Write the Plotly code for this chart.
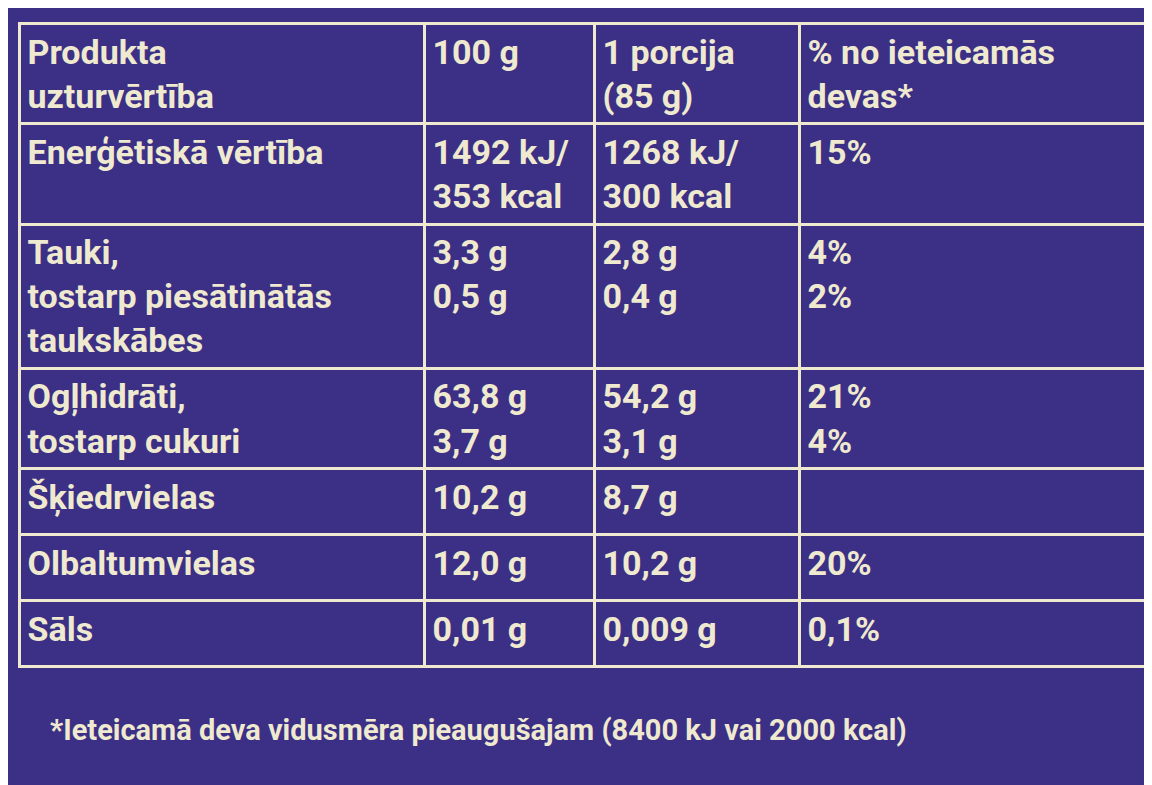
import plotly.graph_objects as go

header = ["<b>Produkta<br>uzturvērtība</b>", "<b>100 g</b>", "<b>1 porcija<br>(85 g)</b>", "<b>% no ieteicamās<br>devas*</b>"]
nutrients = [
    "Enerģētiskā vērtība",
    "Tauki,<br>tostarp piesātinātās<br>taukskābes",
    "Ogļhidrāti,<br>tostarp cukuri",
    "Šķiedrvielas",
    "Olbaltumvielas",
    "Sāls",
]
per_100g = ["1492 kJ/<br>353 kcal", "3,3 g<br>0,5 g", "63,8 g<br>3,7 g", "10,2 g", "12,0 g", "0,01 g"]
per_portion = ["1268 kJ/<br>300 kcal", "2,8 g<br>0,4 g", "54,2 g<br>3,1 g", "8,7 g", "10,2 g", "0,009 g"]
pct_ri = ["15%", "4%<br>2%", "21%<br>4%", "", "20%", "0,1%"]
footnote = "<b>*Ieteicamā deva vidusmēra pieaugušajam (8400 kJ vai 2000 kcal)</b>"

bg = "#3b2f86"
ink = "#efe9cf"
fnt = "Liberation Sans Narrow, Roboto, sans-serif"


def bold(col):
    return ["<b>%s</b>" % v if v else "" for v in col]


fig = go.Figure(
    go.Table(
        columnwidth=[405, 170, 205, 360],
        header=dict(
            values=header,
            fill_color=bg,
            line=dict(color=ink, width=3),
            font=dict(color=ink, size=34, family=fnt),
            align="left",
            height=66,
        ),
        cells=dict(
            values=[bold(nutrients), bold(per_100g), bold(per_portion), bold(pct_ri)],
            fill_color=bg,
            line=dict(color=ink, width=3),
            font=dict(color=ink, size=34, family=fnt),
            align="left",
            height=66,
        ),
        domain=dict(x=[0.01, 1.0], y=[0.1, 0.98]),
    )
)

fig.add_annotation(
    text=footnote, x=0.035, y=0.08, xref="paper", yref="paper",
    xanchor="left", yanchor="middle", showarrow=False,
    font=dict(color=ink, size=29, family=fnt),
)

fig.update_layout(
    width=1152,
    height=785,
    paper_bgcolor=bg,
    plot_bgcolor=bg,
    margin=dict(l=0, r=0, t=0, b=0),
)

fig.write_html("out.html")
